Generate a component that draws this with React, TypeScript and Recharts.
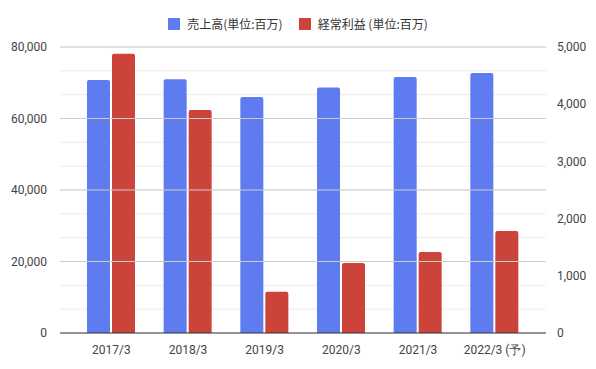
import React from 'react';
import { BarChart, Bar, XAxis, YAxis, CartesianGrid, ReferenceLine } from 'recharts';

const categories = ['2017/3', '2018/3', '2019/3', '2020/3', '2021/3', '2022/3 (予)'];
const sales = [70800, 71000, 66000, 68700, 71600, 72700];
const ordinaryProfit = [4880, 3900, 720, 1225, 1415, 1785];
const leftTicks = [0, 20000, 40000, 60000, 80000];
const rightTicks = [0, 1000, 2000, 3000, 4000, 5000];
const seriesNames = ['売上高(単位:百万)', '経常利益 (単位:百万)'];

const BLUE = '#5e7cf0';
const RED = '#cc4439';

const data = categories.map((c, i) => ({ name: c, sales: sales[i], profit: ordinaryProfit[i] }));
const leftMax = leftTicks[leftTicks.length - 1];
const minorTicks = Array.from({ length: 13 }, (_, i) => Math.round((leftMax / 12) * i));

const fontFamily = 'Roboto, Arial, sans-serif';

export default function App() {
  return (
    <div style={{ position: 'absolute', left: 0, top: 0, width: 596, height: 369, background: '#fff' }}>
      <div
        style={{
          position: 'absolute',
          top: 15,
          left: 0,
          width: 596,
          display: 'flex',
          justifyContent: 'center',
          alignItems: 'center',
          fontFamily: '"Noto Sans CJK JP", Roboto, sans-serif',
          fontSize: 12,
          lineHeight: '18px',
          color: '#333',
          zIndex: 2,
        }}
      >
        <span style={{ display: 'inline-block', width: 12, height: 12, background: BLUE, marginRight: 7 }} />
        <span style={{ marginRight: 16 }}>{seriesNames[0]}</span>
        <span style={{ display: 'inline-block', width: 12, height: 12, background: RED, marginRight: 7 }} />
        <span>{seriesNames[1]}</span>
      </div>
      <BarChart
        width={596}
        height={369}
        data={data}
        margin={{ top: 47, right: 0, left: 0, bottom: 6 }}
        barSize={23}
        barGap={2}
      >
        <CartesianGrid yAxisId="left" vertical={false} stroke="#ebebeb" horizontalValues={minorTicks} />
        <XAxis
          dataKey="name"
          tickLine={false}
          axisLine={{ stroke: '#333' }}
          tick={{ fill: '#444', fontSize: 12, fontFamily }}
          tickMargin={6}
          padding={{ left: 13, right: 13 }}
          height={30}
        />
        <YAxis
          yAxisId="left"
          orientation="left"
          width={60}
          domain={[0, leftMax]}
          ticks={minorTicks}
          interval={0}
          tickFormatter={(v: number) => (leftTicks.includes(v) ? v.toLocaleString('en-US') : '')}
          tickLine={false}
          axisLine={false}
          tickMargin={7}
          tick={{ fill: '#444', fontSize: 12, fontFamily }}
        />
        <YAxis
          yAxisId="right"
          orientation="right"
          width={50}
          domain={[0, 5000]}
          ticks={rightTicks}
          interval={0}
          tickFormatter={(v: number) => v.toLocaleString('en-US')}
          tickLine={false}
          axisLine={false}
          tickMargin={5}
          tick={{ fill: '#444', fontSize: 12, fontFamily, textAnchor: 'start' }}
        />
        {leftTicks.slice(1).map((t) => (
          <ReferenceLine key={t} yAxisId="left" y={t} stroke="#cccccc" />
        ))}
        <Bar yAxisId="left" dataKey="sales" fill={BLUE} radius={[2, 2, 0, 0]} isAnimationActive={false} />
        <Bar yAxisId="right" dataKey="profit" fill={RED} radius={[2, 2, 0, 0]} isAnimationActive={false} />
      </BarChart>
    </div>
  );
}
